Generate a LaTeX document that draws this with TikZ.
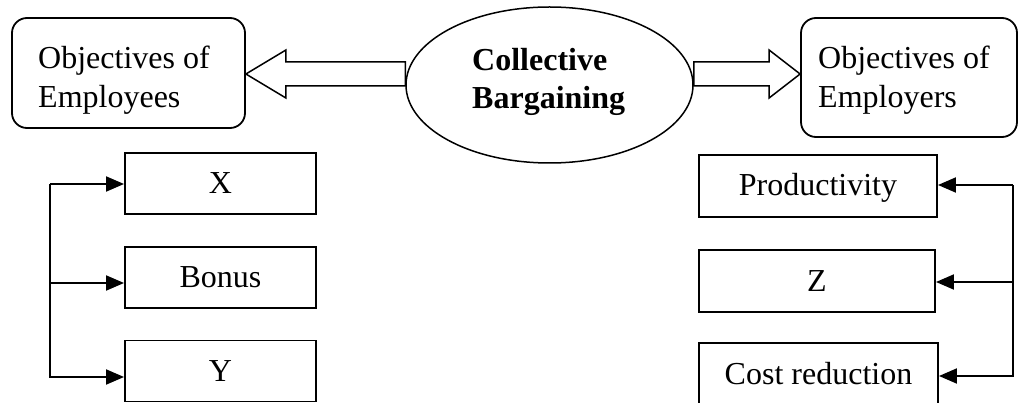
\documentclass[tikz,border=0pt]{standalone}
\usepackage{fontspec}
\setmainfont{Liberation Serif}
\usetikzlibrary{arrows.meta,shapes.geometric,calc}
\begin{document}
\begin{tikzpicture}[x=1pt,y=-1pt,
  every node/.style={font=\fontsize{32}{39}\selectfont},
  box/.style={draw, line width=1.9pt, minimum width=191pt, minimum height=61pt,
    inner sep=0pt, text height=20pt, text depth=0pt},
  rbox/.style={draw, line width=1.8pt, rounded corners=15pt, inner sep=0pt},
  txt/.style={align=left, inner sep=0pt, anchor=west},
  arr/.style={line width=1.9pt, -{Triangle[length=18pt,width=15pt]}},
  barrow/.style={line width=1.5pt, fill=white, line join=miter}]
\useasboundingbox (0,0) rectangle (1019,403);

% top row
\node[rbox, minimum width=233pt, minimum height=110pt] (emp) at (128.5,73) {};
\node[txt] (emptxt) at (38,80) {Objectives of\\Employees};
\node[rbox, minimum width=216pt, minimum height=119pt] (erp) at (909,77.5) {};
\node[txt] (erptxt) at (818,80) {Objectives of\\Employers};
\node[draw, ellipse, line width=1.5pt, minimum width=287pt, minimum height=156pt, inner sep=0pt] (cb) at (549.5,85) {};
\node[txt, font=\fontsize{32}{38}\selectfont\bfseries] (cbtxt) at (472,81.5) {Collective\\Bargaining};

% block arrows
\draw[barrow] ($(emp.east)+(0,1)$) coordinate (t1) -- ++(40,-24) -- ++(0,12) coordinate (s1)
  -- (s1 -| cb.west) -- ++(0,24) coordinate (s2) -- (s2 -| s1) -- ++(0,12) -- cycle;
\draw[barrow] ($(erp.west)+(0,-3.5)$) coordinate (t2) -- ++(-31,-24) -- ++(0,12) coordinate (r1)
  -- (r1 -| cb.east) -- ++(0,24) coordinate (r2) -- (r2 -| r1) -- ++(0,12) -- cycle;

% left list
\node[box] (xb) at (220.5,183.5) {X};
\node[box] (bo) at (220.5,277.5) {Bonus};
\node[box] (yb) at (220.5,371) {Y};
\coordinate (lx) at (50,0);
\coordinate (xin) at ($(xb.west)+(0,0.5)$);
\coordinate (boin) at ($(bo.west)+(0,5.5)$);
\coordinate (yin) at ($(yb.west)+(0,6)$);
\draw[arr] (lx |- xin) -- (lx |- yin) -- (yin);
\draw[arr] (lx |- xin) -- (xin);
\draw[arr] (lx |- boin) -- (boin);

% right list
\node[box, minimum width=238pt, minimum height=62pt] (pr) at (818,186) {Productivity};
\node[box, minimum width=236pt, minimum height=62pt] (zb) at (817,281) {Z};
\node[box, minimum width=239pt, minimum height=62pt] (co) at (818.5,374) {Cost reduction};
\coordinate (rx) at (1013,0);
\coordinate (prin) at ($(pr.east)+(0,-1)$);
\coordinate (zin) at ($(zb.east)+(0,1)$);
\coordinate (coin) at ($(co.east)+(0,2)$);
\draw[arr] (rx |- prin) -- (rx |- coin) -- (coin);
\draw[arr] (rx |- prin) -- (prin);
\draw[arr] (rx |- zin) -- (zin);
\end{tikzpicture}
\end{document}
